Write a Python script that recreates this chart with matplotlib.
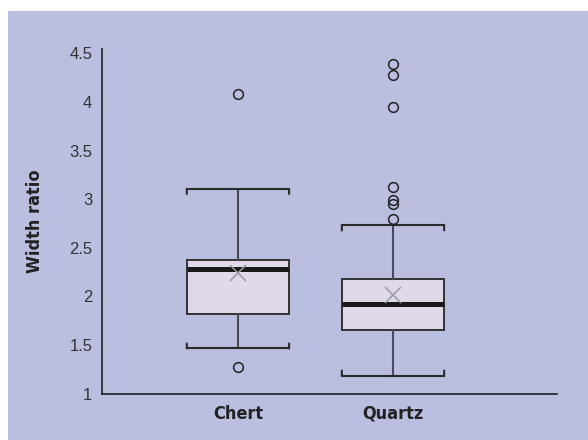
import matplotlib
matplotlib.use("Agg")
import matplotlib.pyplot as plt
from matplotlib import font_manager
from matplotlib.patches import Rectangle

# Summary statistics of width ratio per rock type
categories = ["Chert", "Quartz"]
q1 = [1.82, 1.653]
median = [2.28, 1.923]
q3 = [2.379, 2.184]
whisker_low = [1.465, 1.187]
whisker_high = [3.105, 2.73]
mean = [2.24, 2.01]
outliers = [
    [4.085, 1.275],
    [4.386, 4.28, 3.95, 3.122, 2.99, 2.955, 2.793],
]
yticks = [1, 1.5, 2, 2.5, 3, 3.5, 4, 4.5]
ytick_labels = ["1", "1.5", "2", "2.5", "3", "3.5", "4", "4.5"]

BG = "#BABEDF"
BOX_FILL = "#E1D8EA"

installed = {f.name for f in font_manager.fontManager.ttflist}
if "Liberation Sans Narrow" in installed:
    label_font = dict(family=["Liberation Sans Narrow", "DejaVu Sans"],
                      weight="bold")
else:
    label_font = dict(family=["DejaVu Sans"], weight="bold",
                      stretch="condensed")
tick_font = ["Liberation Sans", "DejaVu Sans"]

fig = plt.figure(figsize=(5.88, 4.4), dpi=100)
fig.patch.set_facecolor("white")
fig.patches.append(Rectangle((8 / 588, 0), 580 / 588, 429 / 440,
                             transform=fig.transFigure, facecolor=BG,
                             edgecolor="none", zorder=-10))

ax = fig.add_axes([102 / 588, 1 - 393.7 / 440, 455 / 588, 344.7 / 440])
ax.set_facecolor("none")

positions = [1, 2]
box_width = 0.66
stats = []
for i, name in enumerate(categories):
    stats.append(dict(label=name, q1=q1[i], med=median[i], q3=q3[i],
                      whislo=whisker_low[i], whishi=whisker_high[i],
                      mean=mean[i], fliers=outliers[i]))

ax.bxp(stats, positions=positions, widths=box_width, patch_artist=True,
       showmeans=True, showfliers=True, capwidths=box_width,
       boxprops=dict(facecolor=BOX_FILL, edgecolor="#333333", linewidth=1.4),
       medianprops=dict(color="#1a1a1a", linewidth=3.6, solid_capstyle="butt"),
       whiskerprops=dict(color="#4a4a55", linewidth=1.5),
       capprops=dict(color="#2a2a2a", linewidth=1.5),
       meanprops=dict(marker="x", markeredgecolor="#9a9aa4", markersize=11,
                      markeredgewidth=1.1, linestyle="none"),
       flierprops=dict(marker="o", markerfacecolor="none",
                       markeredgecolor="#222222", markersize=7,
                       markeredgewidth=1.1))

# Bracket ends on the whisker caps, pointing toward the box
tick_px = 5
for i, pos in enumerate(positions):
    for x in (pos - box_width / 2, pos + box_width / 2):
        for yv, sign in ((whisker_high[i], -1), (whisker_low[i], 1)):
            ax.annotate("", xy=(x, yv), xycoords="data",
                        xytext=(0, sign * tick_px), textcoords="offset pixels",
                        arrowprops=dict(arrowstyle="-", color="#2a2a2a",
                                        lw=1.5, shrinkA=0, shrinkB=0))

ax.set_xlim(0.123, 3.058)
ax.set_ylim(1, 4.545)
ax.set_yticks(yticks)
ax.set_yticklabels(ytick_labels)
ax.set_xticks(positions)
ax.set_xticklabels(categories)

for side in ("top", "right"):
    ax.spines[side].set_visible(False)
for side in ("left", "bottom"):
    ax.spines[side].set_color("#222222")
    ax.spines[side].set_linewidth(1.2)

ax.tick_params(axis="y", length=0, pad=7, labelsize=12, labelcolor="#333333")
ax.tick_params(axis="x", length=0, pad=8, labelsize=13, labelcolor="#222222")
for lbl in ax.get_yticklabels():
    lbl.set_fontfamily(tick_font)
for lbl in ax.get_xticklabels():
    lbl.set_fontproperties(font_manager.FontProperties(size=13, **label_font))

ax.set_ylabel("Width ratio", fontsize=13, color="#222222", labelpad=18,
              **label_font)

fig.savefig("out.png", dpi=100)
